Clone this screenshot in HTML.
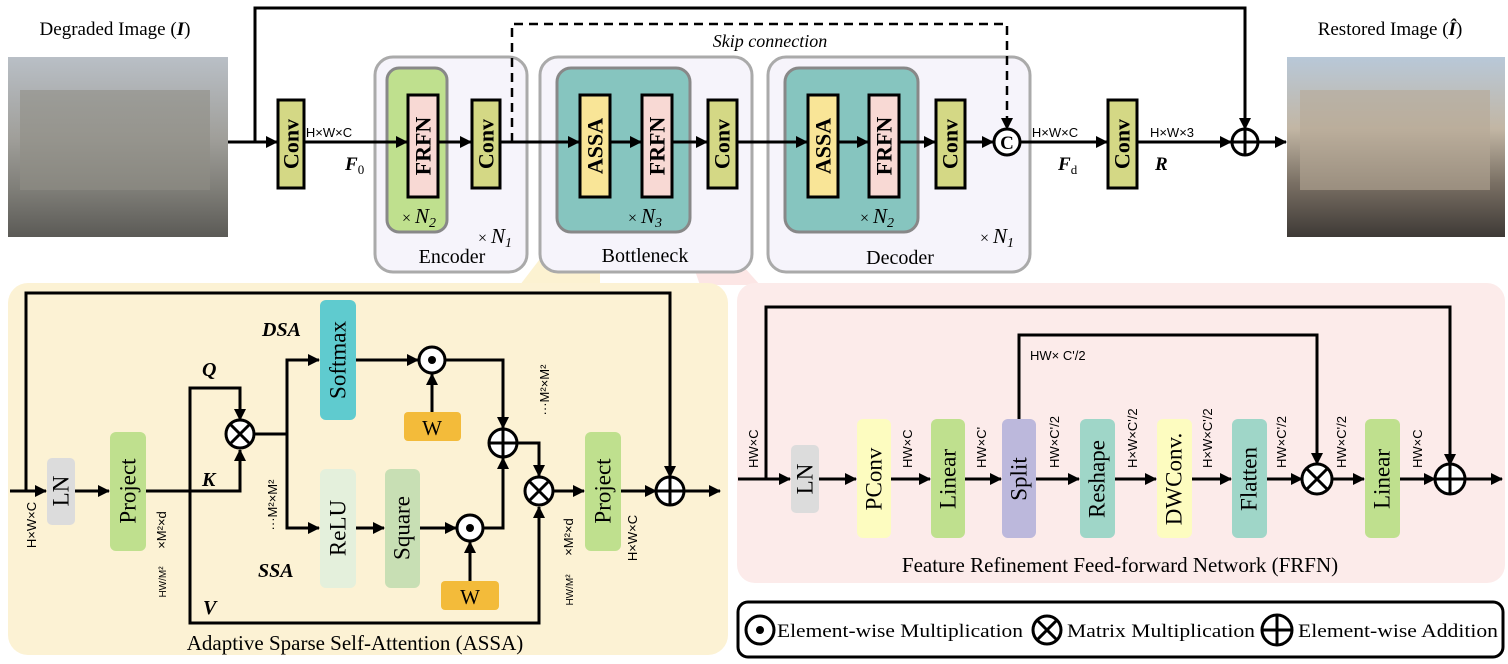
<!DOCTYPE html>
<html><head><meta charset="utf-8"><style>
html,body{margin:0;padding:0;background:#fff;}
svg{display:block;font-family:"Liberation Serif",serif;}
</style></head><body>
<svg width="1508" height="664" viewBox="0 0 1508 664" xmlns="http://www.w3.org/2000/svg">
<defs>
<marker id="a" markerWidth="12" markerHeight="12" refX="11" refY="6" orient="auto" markerUnits="userSpaceOnUse"><path d="M0,0 L12,6 L0,12 z" fill="#000"/></marker>
<linearGradient id="deg" x1="0" y1="0" x2="0" y2="1"><stop offset="0" stop-color="#b9bfc6"/><stop offset="0.45" stop-color="#a09f9a"/><stop offset="0.75" stop-color="#7d7c76"/><stop offset="1" stop-color="#5b5a56"/></linearGradient>
<linearGradient id="res" x1="0" y1="0" x2="0" y2="1"><stop offset="0" stop-color="#b8c8d8"/><stop offset="0.4" stop-color="#c2b6a4"/><stop offset="0.7" stop-color="#7a7064"/><stop offset="1" stop-color="#3e3a36"/></linearGradient>
</defs>
<style>
.l{stroke:#000;stroke-width:3;fill:none}
.bt{font-weight:bold;font-size:22px}
.rt{font-size:23px}
.sm{font-family:"Liberation Sans",sans-serif;font-size:13px}
</style>

<text x="115" y="35" font-size="19" text-anchor="middle">Degraded Image (<tspan font-style="italic" font-weight="bold">I</tspan>)</text>
<rect x="8" y="57" width="220" height="180" fill="url(#deg)"/>
<rect x="20" y="90" width="190" height="100" fill="#8f8d86" opacity="0.6"/>
<text x="1390" y="35" font-size="19" text-anchor="middle">Restored Image (<tspan font-style="italic" font-weight="bold">Î</tspan>)</text>
<rect x="1287" y="57" width="218" height="180" fill="url(#res)"/>
<rect x="1300" y="90" width="190" height="100" fill="#b5a996" opacity="0.6"/>

<polygon points="585,200 600,200 600,285 520,285" fill="#fbefc6" opacity="0.8"/>
<polygon points="668,195 680,195 760,285 700,285" fill="#fbe0de" opacity="0.8"/>

<rect x="375" y="57" width="152" height="215" rx="18" fill="#f6f4fb" stroke="#aaa" stroke-width="3"/>
<rect x="540" y="57" width="212" height="215" rx="18" fill="#f6f4fb" stroke="#aaa" stroke-width="3"/>
<rect x="768" y="57" width="262" height="215" rx="18" fill="#f6f4fb" stroke="#aaa" stroke-width="3"/>
<rect x="387" y="68" width="60" height="164" rx="12" fill="#bfe08e" stroke="#888" stroke-width="3"/>
<rect x="557" y="68" width="133" height="164" rx="14" fill="#86c5bf" stroke="#888" stroke-width="3"/>
<rect x="785" y="68" width="133" height="164" rx="14" fill="#86c5bf" stroke="#888" stroke-width="3"/>

<polyline class="l" points="255,142 255,8 1245,8 1245,129" marker-end="url(#a)"/>
<polyline points="512,142 512,24 1007,24 1007,129" fill="none" stroke="#000" stroke-width="2.5" stroke-dasharray="9,6" marker-end="url(#a)"/>
<text x="770" y="47" font-size="18" font-style="italic" text-anchor="middle">Skip connection</text>
<line class="l" x1="228" y1="142" x2="277" y2="142" marker-end="url(#a)"/>
<line class="l" x1="304" y1="142" x2="407" y2="142" marker-end="url(#a)"/>
<line class="l" x1="439" y1="142" x2="471" y2="142" marker-end="url(#a)"/>
<line class="l" x1="501" y1="142" x2="579" y2="142" marker-end="url(#a)"/>
<line class="l" x1="611" y1="142" x2="641" y2="142" marker-end="url(#a)"/>
<line class="l" x1="673" y1="142" x2="707" y2="142" marker-end="url(#a)"/>
<line class="l" x1="738" y1="142" x2="807" y2="142" marker-end="url(#a)"/>
<line class="l" x1="839" y1="142" x2="868" y2="142" marker-end="url(#a)"/>
<line class="l" x1="900" y1="142" x2="935" y2="142" marker-end="url(#a)"/>
<line class="l" x1="966" y1="142" x2="993" y2="142" marker-end="url(#a)"/>
<line class="l" x1="1021" y1="142" x2="1107" y2="142" marker-end="url(#a)"/>
<line class="l" x1="1138" y1="142" x2="1231" y2="142" marker-end="url(#a)"/>
<line class="l" x1="1259" y1="142" x2="1286" y2="142" marker-end="url(#a)"/>

<g stroke="#000" stroke-width="3">
<rect x="278" y="100" width="26" height="88" fill="#d4d885"/>
<rect x="472" y="100" width="28" height="88" fill="#d4d885"/>
<rect x="708" y="100" width="29" height="88" fill="#d4d885"/>
<rect x="936" y="100" width="29" height="88" fill="#d4d885"/>
<rect x="1108" y="100" width="29" height="88" fill="#d4d885"/>
<rect x="408" y="95" width="30" height="102" fill="#f8d9d4"/>
<rect x="642" y="95" width="30" height="102" fill="#f8d9d4"/>
<rect x="869" y="95" width="30" height="102" fill="#f8d9d4"/>
<rect x="580" y="95" width="30" height="102" fill="#f9e597"/>
<rect x="808" y="95" width="30" height="102" fill="#f9e597"/>
</g>
<g class="bt" text-anchor="middle" dominant-baseline="central">
<text transform="translate(291,144) rotate(-90)">Conv</text>
<text transform="translate(486,144) rotate(-90)">Conv</text>
<text transform="translate(722,144) rotate(-90)">Conv</text>
<text transform="translate(950,144) rotate(-90)">Conv</text>
<text transform="translate(1122,144) rotate(-90)">Conv</text>
<text transform="translate(423,146) rotate(-90)">FRFN</text>
<text transform="translate(657,146) rotate(-90)">FRFN</text>
<text transform="translate(884,146) rotate(-90)">FRFN</text>
<text transform="translate(595,146) rotate(-90)">ASSA</text>
<text transform="translate(823,146) rotate(-90)">ASSA</text>
</g>
<circle cx="1007" cy="142" r="13" fill="#fff" stroke="#000" stroke-width="3"/>
<text x="1007" y="149" font-size="19" font-weight="bold" text-anchor="middle">C</text>
<circle cx="1245" cy="142" r="13" fill="#fff" stroke="#000" stroke-width="3"/>
<path d="M1232,142 H1258 M1245,129 V155" stroke="#000" stroke-width="3"/>

<g class="sm" text-anchor="middle">
<text x="329" y="137">H×W×C</text>
<text x="1055" y="137">H×W×C</text>
<text x="1172" y="137">H×W×3</text>
</g>
<text x="345" y="170" font-size="19" font-style="italic" font-weight="bold">F<tspan font-size="13" font-style="normal" font-weight="normal" dy="4">0</tspan></text>
<text x="1058" y="170" font-size="19" font-style="italic" font-weight="bold">F<tspan font-size="13" font-style="normal" font-weight="normal" dy="4">d</tspan></text>
<text x="1155" y="170" font-size="19" font-style="italic" font-weight="bold">R</text>
<g font-size="21" font-style="italic">
<text x="402" y="223"><tspan font-style="normal" font-size="16">× </tspan>N<tspan font-size="14" dy="4">2</tspan></text>
<text x="628" y="223"><tspan font-style="normal" font-size="16">× </tspan>N<tspan font-size="14" dy="4">3</tspan></text>
<text x="860" y="223"><tspan font-style="normal" font-size="16">× </tspan>N<tspan font-size="14" dy="4">2</tspan></text>
<text x="478" y="243"><tspan font-style="normal" font-size="16">× </tspan>N<tspan font-size="14" dy="4">1</tspan></text>
<text x="980" y="243"><tspan font-style="normal" font-size="16">× </tspan>N<tspan font-size="14" dy="4">1</tspan></text>
</g>
<g font-size="20" text-anchor="middle">
<text x="452" y="263">Encoder</text>
<text x="645" y="262">Bottleneck</text>
<text x="900" y="264">Decoder</text>
</g>

<!-- ASSA panel -->
<rect x="8" y="283" width="720" height="372" rx="20" fill="#fcf2d4"/>
<polyline class="l" points="26,491 26,293 670,293 670,477" marker-end="url(#a)"/>
<line class="l" x1="10" y1="491" x2="46" y2="491" marker-end="url(#a)"/>
<line class="l" x1="75" y1="491" x2="109" y2="491" marker-end="url(#a)"/>
<polyline class="l" points="146,491 240,491 240,450" marker-end="url(#a)"/>
<polyline class="l" points="190,491 190,388 240,388 240,420" marker-end="url(#a)"/>
<polyline class="l" points="190,491 190,623 539,623 539,507" marker-end="url(#a)"/>
<polyline class="l" points="255,434 287,434"/>
<polyline class="l" points="287,434 287,360 319,360" marker-end="url(#a)"/>
<polyline class="l" points="287,434 287,528 319,528" marker-end="url(#a)"/>
<line class="l" x1="356" y1="360" x2="418" y2="360" marker-end="url(#a)"/>
<line class="l" x1="432" y1="412" x2="432" y2="374" marker-end="url(#a)"/>
<polyline class="l" points="446,360 503,360 503,428" marker-end="url(#a)"/>
<line class="l" x1="356" y1="528" x2="384" y2="528" marker-end="url(#a)"/>
<line class="l" x1="420" y1="528" x2="456" y2="528" marker-end="url(#a)"/>
<line class="l" x1="470" y1="581" x2="470" y2="542" marker-end="url(#a)"/>
<polyline class="l" points="484,528 503,528 503,458" marker-end="url(#a)"/>
<polyline class="l" points="518,443 539,443 539,476" marker-end="url(#a)"/>
<line class="l" x1="554" y1="491" x2="584" y2="491" marker-end="url(#a)"/>
<line class="l" x1="621" y1="491" x2="656" y2="491" marker-end="url(#a)"/>
<line class="l" x1="684" y1="491" x2="720" y2="491" marker-end="url(#a)"/>

<rect x="47" y="458" width="28" height="67" rx="5" fill="#dcdcdc"/>
<rect x="110" y="432" width="36" height="119" rx="6" fill="#bfe08e"/>
<rect x="585" y="432" width="36" height="119" rx="6" fill="#bfe08e"/>
<rect x="320" y="300" width="36" height="120" rx="6" fill="#5fcbcf"/>
<rect x="320" y="469" width="36" height="119" rx="6" fill="#e4f0dc"/>
<rect x="385" y="469" width="35" height="119" rx="6" fill="#c8dfb4"/>
<rect x="404" y="412" width="57" height="29" rx="4" fill="#f3bb3a"/>
<rect x="441" y="581" width="58" height="29" rx="4" fill="#f3bb3a"/>
<g class="rt" text-anchor="middle" dominant-baseline="central">
<text transform="translate(61,491) rotate(-90)">LN</text>
<text transform="translate(128,491) rotate(-90)">Project</text>
<text transform="translate(603,491) rotate(-90)">Project</text>
<text transform="translate(338,360) rotate(-90)">Softmax</text>
<text transform="translate(338,528) rotate(-90)">ReLU</text>
<text transform="translate(402,528) rotate(-90)">Square</text>
</g>
<text x="432" y="435" font-size="21" text-anchor="middle">W</text>
<text x="470" y="604" font-size="21" text-anchor="middle">W</text>

<g stroke="#000" stroke-width="3" fill="#fff">
<circle cx="240" cy="434" r="14"/><circle cx="539" cy="491" r="14"/>
<circle cx="503" cy="443" r="14"/><circle cx="670" cy="491" r="14"/>
<circle cx="432" cy="360" r="13"/><circle cx="470" cy="528" r="13"/>
</g>
<path d="M230,424 L250,444 M250,424 L230,444 M529,481 L549,501 M549,481 L529,501 M489,443 H517 M503,429 V457 M656,491 H684 M670,477 V505" stroke="#000" stroke-width="3"/>
<circle cx="432" cy="360" r="4" fill="#000"/><circle cx="470" cy="528" r="4" fill="#000"/>

<g font-size="20" font-style="italic" font-weight="bold">
<text x="262" y="336">DSA</text><text x="258" y="577">SSA</text>
<text x="202" y="376">Q</text><text x="202" y="486">K</text><text x="203" y="614">V</text>
</g>
<g class="sm" text-anchor="middle">
<text transform="translate(36,525) rotate(-90)">H×W×C</text>
<text transform="translate(549,390) rotate(-90)">···M²×M²</text>
<text transform="translate(277,505) rotate(-90)">···M²×M²</text>
<text transform="translate(166,530) rotate(-90)">×M²×d</text>
<text transform="translate(166,582) rotate(-90)" font-size="10">HW/M²</text>
<text transform="translate(573,537) rotate(-90)">×M²×d</text>
<text transform="translate(573,590) rotate(-90)" font-size="10">HW/M²</text>
<text transform="translate(637,538) rotate(-90)">H×W×C</text>
</g>
<text x="355" y="650" font-size="21" text-anchor="middle">Adaptive Sparse Self-Attention (ASSA)</text>

<!-- FRFN panel -->
<rect x="737" y="283" width="768" height="300" rx="18" fill="#fcebea"/>
<polyline class="l" points="766,479 766,307 1450,307 1450,465" marker-end="url(#a)"/>
<polyline class="l" points="1019,419 1019,335 1317,335 1317,464" marker-end="url(#a)"/>
<line class="l" x1="738" y1="479" x2="790" y2="479" marker-end="url(#a)"/>
<line class="l" x1="819" y1="479" x2="856" y2="479" marker-end="url(#a)"/>
<line class="l" x1="891" y1="479" x2="930" y2="479" marker-end="url(#a)"/>
<line class="l" x1="965" y1="479" x2="1001" y2="479" marker-end="url(#a)"/>
<line class="l" x1="1036" y1="479" x2="1079" y2="479" marker-end="url(#a)"/>
<line class="l" x1="1115" y1="479" x2="1156" y2="479" marker-end="url(#a)"/>
<line class="l" x1="1192" y1="479" x2="1231" y2="479" marker-end="url(#a)"/>
<line class="l" x1="1267" y1="479" x2="1302" y2="479" marker-end="url(#a)"/>
<line class="l" x1="1332" y1="479" x2="1364" y2="479" marker-end="url(#a)"/>
<line class="l" x1="1400" y1="479" x2="1435" y2="479" marker-end="url(#a)"/>
<line class="l" x1="1465" y1="479" x2="1502" y2="479" marker-end="url(#a)"/>

<rect x="791" y="445" width="28" height="68" rx="5" fill="#dcdcdc"/>
<rect x="857" y="419" width="34" height="119" rx="6" fill="#fdfcc0"/>
<rect x="931" y="419" width="34" height="119" rx="6" fill="#bfe08e"/>
<rect x="1002" y="419" width="34" height="119" rx="6" fill="#bcb8dc"/>
<rect x="1080" y="419" width="35" height="119" rx="6" fill="#9fd6c8"/>
<rect x="1157" y="419" width="35" height="119" rx="6" fill="#fdfcc0"/>
<rect x="1232" y="419" width="35" height="119" rx="6" fill="#9fd6c8"/>
<rect x="1365" y="419" width="35" height="119" rx="6" fill="#bfe08e"/>
<g class="rt" text-anchor="middle" dominant-baseline="central">
<text transform="translate(805,479) rotate(-90)">LN</text>
<text transform="translate(874,479) rotate(-90)">PConv</text>
<text transform="translate(948,479) rotate(-90)">Linear</text>
<text transform="translate(1019,479) rotate(-90)">Split</text>
<text transform="translate(1097,479) rotate(-90)">Reshape</text>
<text transform="translate(1174,479) rotate(-90)">DWConv.</text>
<text transform="translate(1249,479) rotate(-90)">Flatten</text>
<text transform="translate(1382,479) rotate(-90)">Linear</text>
</g>
<g stroke="#000" stroke-width="3" fill="#fff"><circle cx="1317" cy="479" r="15"/><circle cx="1450" cy="479" r="15"/></g>
<path d="M1306,468 L1328,490 M1328,468 L1306,490 M1435,479 H1465 M1450,464 V494" stroke="#000" stroke-width="3"/>
<g class="sm" text-anchor="start">
<text transform="translate(758,468) rotate(-90)">HW×C</text>
<text transform="translate(912,468) rotate(-90)">HW×C</text>
<text transform="translate(986,468) rotate(-90)">HW×C'</text>
<text transform="translate(1059,468) rotate(-90)">HW×C'/2</text>
<text transform="translate(1137,468) rotate(-90)">H×W×C'/2</text>
<text transform="translate(1212,468) rotate(-90)">H×W×C'/2</text>
<text transform="translate(1286,468) rotate(-90)">HW×C'/2</text>
<text transform="translate(1346,468) rotate(-90)">HW×C'/2</text>
<text transform="translate(1422,468) rotate(-90)">HW×C</text>
</g>
<text x="1030" y="360" class="sm">HW× C'/2</text>
<text x="1120" y="572" font-size="21" text-anchor="middle">Feature Refinement Feed-forward Network (FRFN)</text>

<!-- legend -->
<rect x="738" y="602" width="765" height="55" rx="10" fill="#fff" stroke="#000" stroke-width="3"/>
<g stroke="#000" stroke-width="3" fill="#fff">
<circle cx="760" cy="630" r="14"/><circle cx="1047" cy="630" r="14"/><circle cx="1277" cy="630" r="15"/>
</g>
<circle cx="760" cy="630" r="4" fill="#000"/>
<path d="M1037,620 L1057,640 M1057,620 L1037,640 M1262,630 H1292 M1277,615 V645" stroke="#000" stroke-width="3"/>
<g font-size="19">
<text x="777" y="637" textLength="246" lengthAdjust="spacingAndGlyphs">Element-wise Multiplication</text>
<text x="1067" y="637" textLength="188" lengthAdjust="spacingAndGlyphs">Matrix Multiplication</text>
<text x="1298" y="637" textLength="200" lengthAdjust="spacingAndGlyphs">Element-wise Addition</text>
</g>
</svg>
</body></html>
